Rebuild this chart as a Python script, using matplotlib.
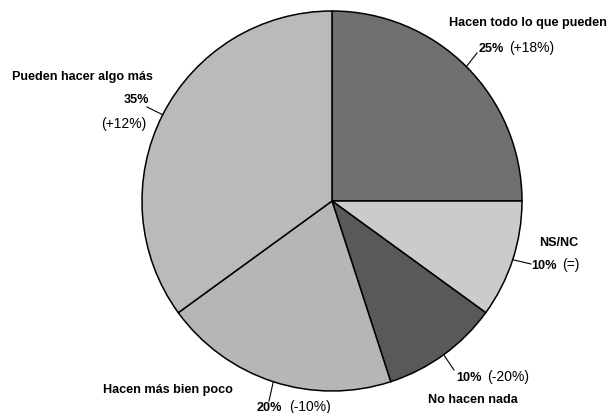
import numpy as np
import matplotlib
matplotlib.use("Agg")
import matplotlib.pyplot as plt

# Opinion shares and change against the previous survey
labels = ["Hacen todo lo que pueden", "NS/NC", "No hacen nada",
          "Hacen más bien poco", "Pueden hacer algo más"]
shares = [25, 10, 10, 20, 35]
changes = ["(+18%)", "(=)", "(-20%)", "(-10%)", "(+12%)"]
colors = ["#707070", "#cbcbcb", "#595959", "#b6b6b6", "#bababa"]

# Layout in pixels: pie centre/radius, then per-slice label anchors
W, H = 610, 413
CX, CY, R = 332, 201, 190
name_pos = [(449, 26), (539, 246), (428, 403), (103, 393), (12, 80)]
pct_pos = [(479, 52), (531, 269), (456, 381), (257, 411), (124, 103)]
chg_pos = [(509, 52), (562, 269), (487, 381), (289, 411), (101, 128)]
leader_end = [(477, 53), (531, 264), (454, 370), (269, 401), (147, 107)]


def px(x, y):
    return (x - CX) / R, (CY - y) / R


fig = plt.figure(figsize=(W / 100, H / 100), dpi=100)
ax = fig.add_axes([0, 0, 1, 1])

wedges, _ = ax.pie(shares, colors=colors, startangle=90, counterclock=False,
                   radius=1, center=(0, 0), frame=True,
                   wedgeprops=dict(edgecolor="black", linewidth=1.1))
ax.set_aspect("auto")
ax.set_xlim(-CX / R, (W - CX) / R)
ax.set_ylim(-(H - CY) / R, CY / R)
ax.axis("off")

font = "Liberation Sans"
for i, w in enumerate(wedges):
    # leader from the middle of the wedge rim out to its label
    mid = np.deg2rad((w.theta1 + w.theta2) / 2)
    x1, y1 = px(*leader_end[i])
    ax.plot([np.cos(mid), x1], [np.sin(mid), y1], color="black", lw=0.8)

    ax.text(*px(*name_pos[i]), labels[i], ha="left", va="baseline",
            fontsize=9.1, fontweight="bold", family=font)
    ax.text(*px(*pct_pos[i]), f"{shares[i]}%", ha="left", va="baseline",
            fontsize=9.1, fontweight="bold", family=font)
    ax.text(*px(*chg_pos[i]), changes[i], ha="left", va="baseline",
            fontsize=10, family=font)

fig.savefig("out.png", dpi=100)
